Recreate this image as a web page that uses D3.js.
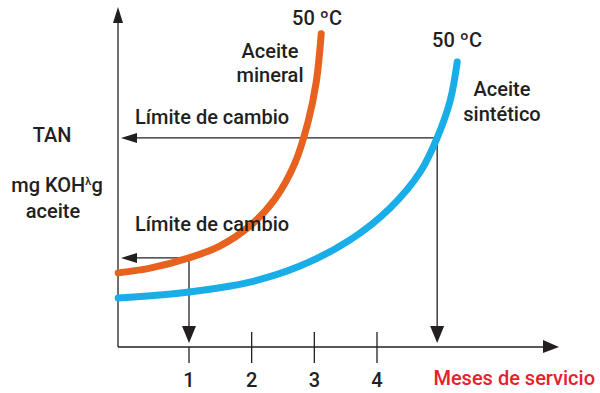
<!DOCTYPE html>
<html>
<head>
<meta charset="utf-8">
<script src="https://cdn.jsdelivr.net/npm/d3@7"></script>
<style>
  body { margin: 0; background: #fff; }
  text { font-family: "Roboto", sans-serif; font-weight: 500; fill: #231f20; }
</style>
</head>
<body>
<svg id="chart" width="600" height="393"></svg>
<script>
// months of service (ticks)
var months = [1, 2, 3, 4];

// TAN curves (x = months, y = TAN, arbitrary units)
var mineralX = [-0.13, 0.38, 1.0, 1.49, 1.97, 2.37, 2.69, 2.90, 3.03, 3.11];
var mineralY = [2.18, 2.32, 2.62, 2.97, 3.56, 4.35, 5.41, 6.62, 7.79, 9.21];
var sinteticoX = [-0.13, 1.0, 1.97, 2.77, 3.57, 4.21, 4.69, 4.96, 5.17, 5.28];
var sinteticoY = [1.44, 1.62, 1.91, 2.38, 3.15, 4.09, 5.15, 6.15, 7.26, 8.38];

// change limits: [month, TAN]
var limiteMineral = [1.0, 2.62];
var limiteSintetico = [4.96, 6.15];

var svg = d3.select("#chart");

var x = d3.scaleLinear().domain([1, 4]).range([189, 377]);
var y = d3.scaleLinear().domain([0, 10]).range([347, 7]);

var x0 = 118, xEnd = 559, y0 = 347, yTop = 7;
var ink = "#231f20";

// axes
svg.append("line").attr("x1", x0).attr("y1", y0).attr("x2", xEnd - 10).attr("y2", y0)
  .attr("stroke", ink).attr("stroke-width", 1.3);
svg.append("line").attr("x1", x0).attr("y1", y0).attr("x2", x0).attr("y2", yTop + 10)
  .attr("stroke", ink).attr("stroke-width", 1.3);
svg.append("path").attr("d", "M" + xEnd + "," + y0 + "L" + (xEnd - 16) + "," + (y0 - 7) + "L" + (xEnd - 16) + "," + (y0 + 6) + "Z")
  .attr("fill", ink);
svg.append("path").attr("d", "M" + x0 + "," + yTop + "L" + (x0 - 5) + "," + (yTop + 16) + "L" + (x0 + 5) + "," + (yTop + 16) + "Z")
  .attr("fill", ink);

// ticks
svg.selectAll(".tick").data(months).enter().append("line")
  .attr("x1", function(d) { return x(d); }).attr("x2", function(d) { return x(d); })
  .attr("y1", function(d) { return d == 1 ? y0 : 332; }).attr("y2", 363)
  .attr("stroke", ink).attr("stroke-width", 1.3);
svg.selectAll(".ticklabel").data(months).enter().append("text")
  .attr("x", function(d) { return x(d); }).attr("y", 387)
  .attr("text-anchor", "middle").style("font-size", "20px")
  .text(function(d) { return d; });

// curves
var line = d3.line()
  .x(function(d) { return x(d[0]); })
  .y(function(d) { return y(d[1]); })
  .curve(d3.curveCatmullRom);

var mineral = d3.zip(mineralX, mineralY);
var sintetico = d3.zip(sinteticoX, sinteticoY);

// limit arrows
function limitArrow(p) {
  var px = x(p[0]), py = y(p[1]);
  svg.append("line").attr("x1", px).attr("y1", py).attr("x2", x0 + 14).attr("y2", py)
    .attr("stroke", ink).attr("stroke-width", 1.3);
  svg.append("path").attr("d", "M" + (x0 + 3) + "," + py + "L" + (x0 + 19) + "," + (py - 5) + "L" + (x0 + 19) + "," + (py + 5) + "Z")
    .attr("fill", ink);
  svg.append("line").attr("x1", px).attr("y1", py).attr("x2", px).attr("y2", y0 - 10)
    .attr("stroke", ink).attr("stroke-width", 1.3);
  svg.append("path").attr("d", "M" + px + "," + (y0 - 4) + "L" + (px - 7) + "," + (y0 - 21) + "L" + (px + 7) + "," + (y0 - 21) + "Z")
    .attr("fill", ink);
}
limitArrow(limiteMineral);
limitArrow(limiteSintetico);

svg.append("path").datum(sintetico).attr("d", line)
  .attr("fill", "none").attr("stroke", "#1aaee8").attr("stroke-width", 7).attr("stroke-linecap", "round");
svg.append("path").datum(mineral).attr("d", line)
  .attr("fill", "none").attr("stroke", "#e8621f").attr("stroke-width", 7).attr("stroke-linecap", "round");

// labels
function label(t, lx, ly, anchor, color) {
  svg.append("text").attr("x", lx).attr("y", ly).attr("text-anchor", anchor || "middle")
    .style("font-size", "20px").style("fill", color || ink).text(t);
}
label("50 ºC", 317, 25);
label("Aceite", 270, 58);
label("mineral", 270, 82);
label("50 ºC", 457, 47);
label("Aceite", 502, 96);
label("sintético", 502, 121);
label("Límite de cambio", 135, 124, "start");
label("Límite de cambio", 135, 231, "start");
label("TAN", 52, 142);
label("aceite", 53, 218);
label("Meses de servicio", 595, 385, "end", "#e8202a");

var kt = svg.append("text").attr("x", 57).attr("y", 192).attr("text-anchor", "middle").style("font-size", "20px");
kt.append("tspan").text("mg KOH");
kt.append("tspan").attr("dy", -7).style("font-size", "11px").text("λ");
kt.append("tspan").attr("dy", 7).text("g");
</script>
</body>
</html>
